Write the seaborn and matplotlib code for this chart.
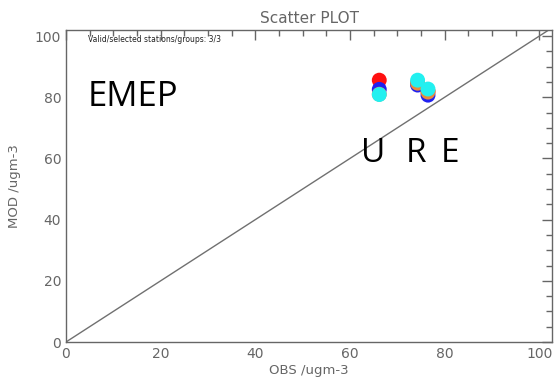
import matplotlib
matplotlib.use("Agg")
import matplotlib.pyplot as plt
import seaborn as sns
import pandas as pd
from matplotlib.ticker import MultipleLocator

# ---- data ----
stations = ["S1", "S2", "S3"]
obs = [66.2, 74.3, 76.5]
series_names = ["red", "blue", "orange", "cyan"]
mod_red = [85.6, 84.8, 82.0]
mod_blue = [82.6, 84.0, 80.7]
mod_orange = [81.0, 84.6, 81.7]
mod_cyan = [80.9, 85.6, 82.7]
colors = ["#ff1010", "#2020f0", "#e88a3a", "#22f0f0"]
title = "Scatter PLOT"
xlabel = "OBS /ugm-3"
ylabel = "MOD /ugm-3"
note = "Valid/selected stations/groups: 3/3"
big_label = "EMEP"
station_letters = ["U", "R", "E"]

rows = []
for name, vals in zip(series_names, [mod_red, mod_blue, mod_orange, mod_cyan]):
    for st, x, y in zip(stations, obs, vals):
        rows.append({"series": name, "station": st, "obs": x, "mod": y})
df = pd.DataFrame(rows)

sns.set_style("white")
plt.rcParams["font.family"] = ["DejaVu Sans"]

fig = plt.figure(figsize=(5.55, 3.81), dpi=100)
ax = fig.add_axes([66 / 555, 39 / 381, 486 / 555, 312 / 381])

gray = "#666666"
ax.axline((0, 0), slope=1, color="#707070", lw=1.0, zorder=1)

sns.scatterplot(data=df, x="obs", y="mod", hue="series", hue_order=series_names,
                palette=colors, s=115, linewidth=0, legend=False, ax=ax, zorder=3)

ax.set_xlim(0, 102.7)
ax.set_ylim(0, 102.0)
ax.xaxis.set_major_locator(MultipleLocator(20))
ax.xaxis.set_minor_locator(MultipleLocator(5))
ax.yaxis.set_major_locator(MultipleLocator(20))
ax.yaxis.set_minor_locator(MultipleLocator(5))
ax.tick_params(which="both", direction="in", top=True, right=True, colors=gray,
               labelcolor=gray, labelsize=10, width=1)
ax.tick_params(which="major", length=7)
ax.tick_params(which="minor", length=4)
for sp in ax.spines.values():
    sp.set_color(gray)
    sp.set_linewidth(1)

ax.set_xlabel(xlabel, color=gray, fontsize=9.5, labelpad=2)
ax.set_ylabel(ylabel, color=gray, fontsize=9.5, labelpad=10)
ax.set_title(title, color=gray, fontsize=11, pad=5)

ax.text(0.045, 0.985, note, transform=ax.transAxes, fontsize=5.5, color="#202020",
        va="top", ha="left")
ax.text(0.045, 0.785, big_label, transform=ax.transAxes, fontsize=25,
        family=["Open Sans", "DejaVu Sans"], va="center", ha="left", color="black")
for letter, xf in zip(station_letters, [0.632, 0.721, 0.790]):
    ax.text(xf, 0.605, letter, transform=ax.transAxes, fontsize=24,
            family=["Open Sans", "DejaVu Sans"], va="center", ha="center", color="black")

fig.savefig("out.png", dpi=100)
